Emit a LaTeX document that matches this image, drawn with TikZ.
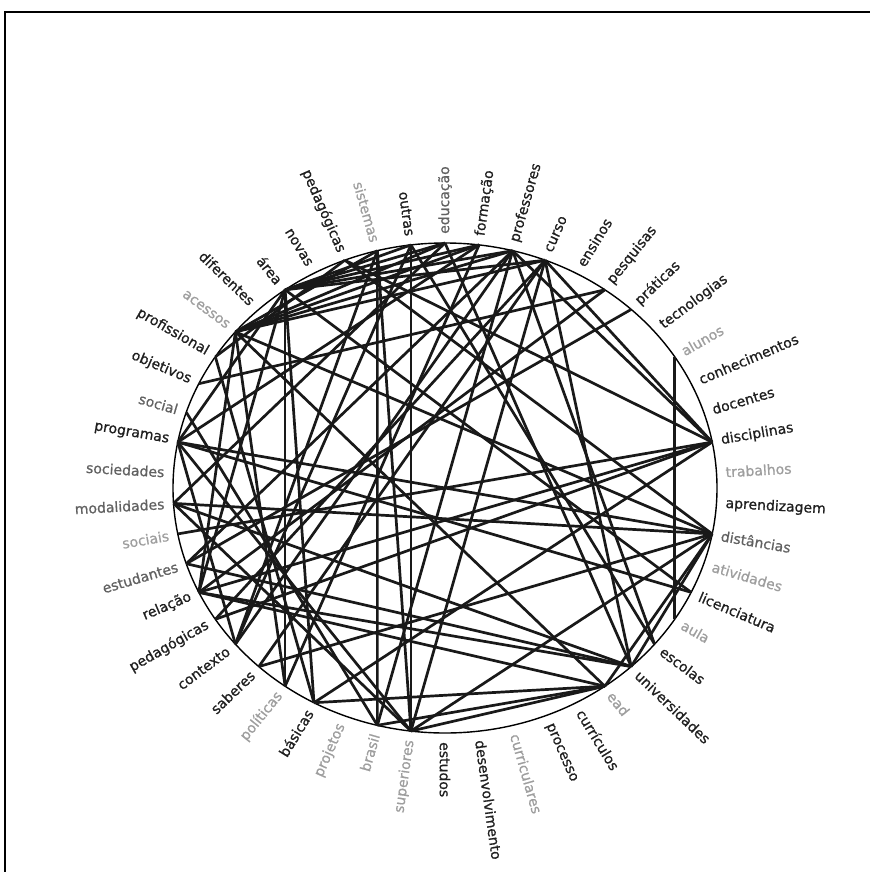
\documentclass[tikz,border=0pt]{standalone}
\usepackage{fontspec}
\setmainfont{DejaVu Sans}
\newfontfamily\labfont[FakeBold=0.9]{DejaVu Sans}
\begin{document}
\begin{tikzpicture}[x=1pt,y=-1pt,
  chord/.style={line width=2.7pt, black!90},
  rim/.style={line width=1.4pt, black},
  lab/.style={font=\labfont\fontsize{14}{15}\selectfont, inner sep=0pt}]
\useasboundingbox (0,0) rectangle (870,872);
\def\cx{445}\def\cy{488}\def\rx{272}\def\ry{245}
\draw[line width=1.6pt] (5,872) -- (5,12) -- (870,12);
\draw[rim] (\cx,\cy) ellipse [x radius=\rx, y radius=\ry];
\colorlet{cA}{black!88}
\colorlet{cB}{black!62}
\colorlet{cC}{black!38}
\foreach \w/\c [count=\i] in {educação/cB, formação/cA, professores/cA, curso/cA, ensinos/cA, pesquisas/cA, práticas/cA, tecnologias/cA, alunos/cC, conhecimentos/cA, docentes/cA, disciplinas/cA, trabalhos/cC, aprendizagem/cA, distâncias/cB, atividades/cC, licenciatura/cA, aula/cC, escolas/cA, universidades/cA, ead/cC, currículos/cA, processo/cA, curriculares/cC, desenvolvimento/cA, estudos/cA, superiores/cC, brasil/cC, projetos/cC, básicas/cA, políticas/cC, saberes/cA, contexto/cA, pedagógicas/cA, relação/cA, estudantes/cB, sociais/cC, modalidades/cB, sociedades/cB, programas/cA, social/cB, objetivos/cA, profissional/cA, acessos/cC, diferentes/cA, área/cA, novas/cA, pedagógicas/cA, sistemas/cC, outras/cA} {
  \pgfmathsetmacro\th{90-7.2*(\i-1)}
  \pgfmathsetmacro\ph{atan2(\ry*sin(\th),\rx*cos(\th))}
  \coordinate (p\i) at ({\cx+\rx*cos(\th)},{\cy-\ry*sin(\th)});
  \ifnum\i<27
    \node[lab, text=\c, anchor=west, rotate=\ph] (n\i)
      at ({\cx+(\rx+9)*cos(\th)},{\cy-(\ry+9)*sin(\th)}) {\w};
  \else
    \pgfmathsetmacro\tf{\ph+180}
    \node[lab, text=\c, anchor=east, rotate=\tf] (n\i)
      at ({\cx+(\rx+9)*cos(\th)},{\cy-(\ry+9)*sin(\th)}) {\w};
  \fi
}
\foreach \a/\b in {3/44, 3/46, 4/46, 1/44, 2/44, 2/46, 4/44, 49/44, 50/46, 1/46, 48/43,
  49/28, 50/27, 9/18, 49/27,
  3/12, 3/36, 3/33, 3/19, 3/28,
  4/12, 4/20, 4/34, 4/32, 4/27,
  1/20, 1/38, 2/40, 2/31,
  50/33, 50/19, 49/33,
  48/12, 48/15,
  46/31, 46/30, 46/17, 46/40, 46/35,
  44/15, 44/21, 44/31, 44/35,
  43/30, 41/28,
  40/15, 40/27, 40/33, 40/17,
  38/15, 38/20, 38/27,
  35/12, 35/20, 35/21, 35/6,
  36/20, 7/36, 6/42,
  12/37, 12/34, 12/30,
  15/32, 15/27, 15/21, 15/20,
  30/21, 28/21, 27/21} {
  \draw[chord] (p\a) -- (p\b);
}
\end{tikzpicture}
\end{document}
